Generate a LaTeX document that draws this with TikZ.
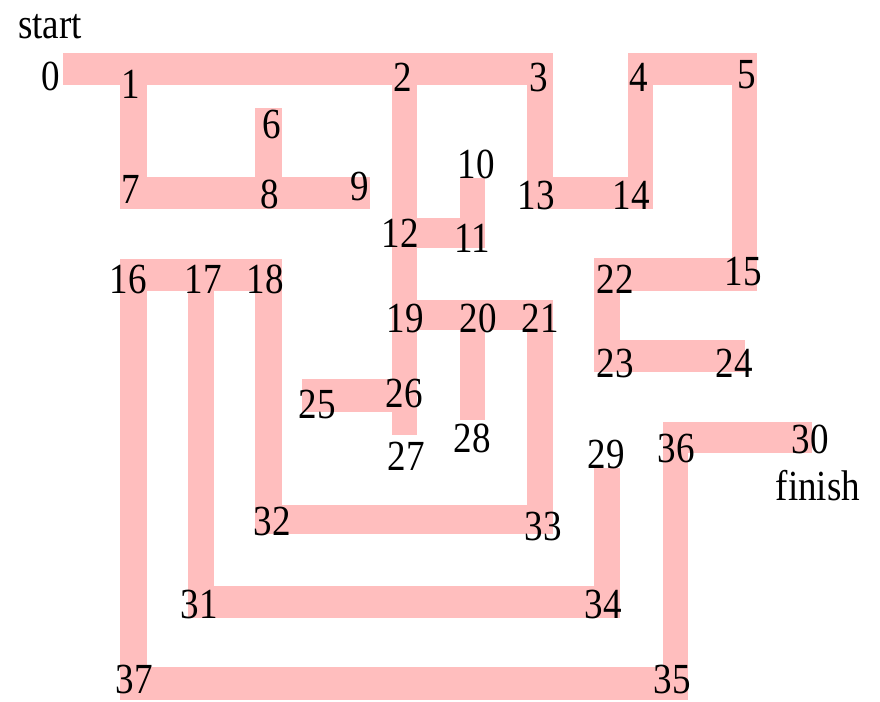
\documentclass[tikz,border=0pt]{standalone}
\usepackage{fontspec}
\setmainfont{Liberation Serif}
\definecolor{bandpink}{RGB}{255,190,190}
\newcommand{\mzlab}[1]{\scalebox{0.95}[1.1]{#1}}
\tikzset{
  band/.style={fill=bandpink},
  lab/.style={anchor=base, inner sep=0pt, font=\fontsize{39}{44}\selectfont, text=black}
}
\begin{document}
\begin{tikzpicture}[x=1pt,y=-1pt]
\useasboundingbox (0,0) rectangle (880,701);
% corridors
\fill[band] (63,53) rectangle (553,85);    % 0-1-2-3
\fill[band] (120,53) rectangle (147,209);  % 1-7
\fill[band] (120,177) rectangle (370,209); % 7-8-9
\fill[band] (255,108) rectangle (282,209); % 6-8
\fill[band] (392,53) rectangle (417,435);  % 2-12-19-26-27
\fill[band] (404,218) rectangle (485,248); % 12-11
\fill[band] (460,178) rectangle (485,248); % 10-11
\fill[band] (527,53) rectangle (553,209);  % 3-13
\fill[band] (527,177) rectangle (653,209); % 13-14
\fill[band] (628,53) rectangle (653,209);  % 4-14
\fill[band] (628,53) rectangle (757,85);   % 4-5
\fill[band] (732,53) rectangle (757,291);  % 5-15
\fill[band] (594,258) rectangle (757,291); % 22-15
\fill[band] (594,258) rectangle (620,372); % 22-23
\fill[band] (594,340) rectangle (745,372); % 23-24
\fill[band] (392,300) rectangle (553,330); % 19-20-21
\fill[band] (460,300) rectangle (485,420); % 20-28
\fill[band] (527,300) rectangle (553,534); % 21-33
\fill[band] (255,505) rectangle (553,534); % 32-33
\fill[band] (302,379) rectangle (404,412); % 25-26
\fill[band] (120,259) rectangle (282,291); % 16-17-18
\fill[band] (255,259) rectangle (282,534); % 18-32
\fill[band] (188,259) rectangle (214,618); % 17-31
\fill[band] (120,259) rectangle (147,700); % 16-37
\fill[band] (188,586) rectangle (620,618); % 31-34
\fill[band] (594,468) rectangle (620,618); % 29-34
\fill[band] (120,667) rectangle (688,700); % 37-35
\fill[band] (663,422) rectangle (688,700); % 36-35
\fill[band] (663,422) rectangle (812,453); % 36-30
% labels
\node[lab] (start) at (50,38) {\mzlab{start}};
\node[lab] (finish) at (818,500) {\mzlab{finish}};
\node[lab] (n0) at (51,90) {\mzlab{0}};
\node[lab] (n1) at (131,98) {\mzlab{1}};
\node[lab] (n2) at (403,92) {\mzlab{2}};
\node[lab] (n3) at (539,92) {\mzlab{3}};
\node[lab] (n4) at (639,92) {\mzlab{4}};
\node[lab] (n5) at (747,88) {\mzlab{5}};
\node[lab] (n6) at (272,138) {\mzlab{6}};
\node[lab] (n7) at (131,203) {\mzlab{7}};
\node[lab] (n8) at (270,208) {\mzlab{8}};
\node[lab] (n9) at (360,200) {\mzlab{9}};
\node[lab] (n10) at (476,178) {\mzlab{10}};
\node[lab] (n11) at (472,252) {\mzlab{11}};
\node[lab] (n12) at (400,247) {\mzlab{12}};
\node[lab] (n13) at (536,209) {\mzlab{13}};
\node[lab] (n14) at (631,209) {\mzlab{14}};
\node[lab] (n15) at (743,285) {\mzlab{15}};
\node[lab] (n16) at (128,293) {\mzlab{16}};
\node[lab] (n17) at (203,293) {\mzlab{17}};
\node[lab] (n18) at (265,293) {\mzlab{18}};
\node[lab] (n19) at (405,332) {\mzlab{19}};
\node[lab] (n20) at (478,332) {\mzlab{20}};
\node[lab] (n21) at (540,332) {\mzlab{21}};
\node[lab] (n22) at (615,293) {\mzlab{22}};
\node[lab] (n23) at (615,377) {\mzlab{23}};
\node[lab] (n24) at (734,377) {\mzlab{24}};
\node[lab] (n25) at (317,418) {\mzlab{25}};
\node[lab] (n26) at (404,407) {\mzlab{26}};
\node[lab] (n27) at (406,470) {\mzlab{27}};
\node[lab] (n28) at (472,452) {\mzlab{28}};
\node[lab] (n29) at (606,468) {\mzlab{29}};
\node[lab] (n30) at (810,453) {\mzlab{30}};
\node[lab] (n31) at (199,618) {\mzlab{31}};
\node[lab] (n32) at (272,535) {\mzlab{32}};
\node[lab] (n33) at (543,540) {\mzlab{33}};
\node[lab] (n34) at (603,618) {\mzlab{34}};
\node[lab] (n35) at (672,693) {\mzlab{35}};
\node[lab] (n36) at (676,462) {\mzlab{36}};
\node[lab] (n37) at (134,693) {\mzlab{37}};
\end{tikzpicture}
\end{document}
